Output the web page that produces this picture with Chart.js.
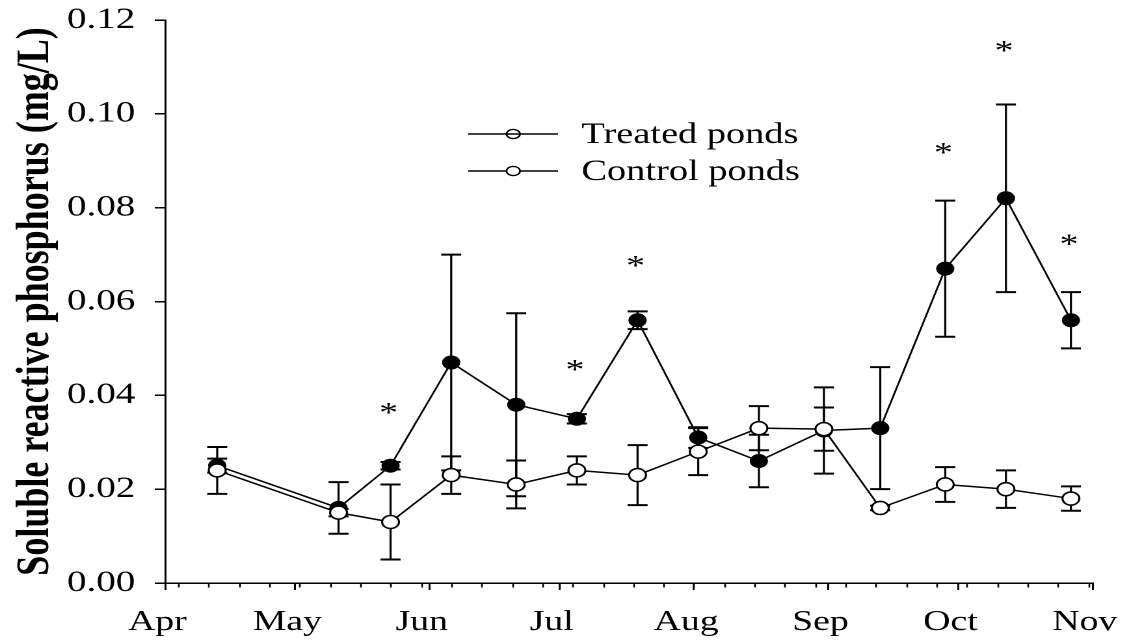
<!DOCTYPE html>
<html>
<head>
<meta charset="utf-8">
<title>Soluble reactive phosphorus</title>
<script src="https://cdn.jsdelivr.net/npm/chart.js@4.4.1/dist/chart.umd.min.js"></script>
<style>
  html, body { margin: 0; padding: 0; background: #fff; overflow: hidden; }
  /* The figure is laid out narrower and stretched sideways, as in the published plot */
  #wrap { width: 868px; height: 642px; transform: scaleX(1.3007); transform-origin: 0 0; }
</style>
</head>
<body>
<div id="wrap"><canvas id="chart"></canvas></div>
<script>
// Month boundaries on the x axis, in days counted from 1 April
const monthLabels = ['Apr', 'May', 'Jun', 'Jul', 'Aug', 'Sep', 'Oct', 'Nov'];
const monthStartDays = [0, 30, 61, 91, 122, 153, 183, 214];
const yTickValues = [0, 0.02, 0.04, 0.06, 0.08, 0.10, 0.12];

// Sampling dates (days from 1 April)
const sampleDays = [12, 40, 52, 66, 81, 95, 109, 123, 137, 152, 165, 180, 194, 209];

// Mean SRP (mg/L) and standard error for each pond group
const treatedMean = [0.025, 0.016, 0.025, 0.047, 0.038, 0.035, 0.056, 0.031, 0.026, 0.0325, 0.033, 0.067, 0.082, 0.056];
const treatedSE   = [0.0015, 0.0055, 0.0008, 0.023, 0.0195, 0.001, 0.0019, 0.0022, 0.0056, 0.0092, 0.013, 0.0145, 0.020, 0.006];
const controlMean = [0.024, 0.015, 0.013, 0.023, 0.021, 0.024, 0.023, 0.028, 0.033, 0.0328, 0.016, 0.021, 0.020, 0.018];
const controlSE   = [0.005, 0.0008, 0.008, 0.004, 0.0051, 0.003, 0.0064, 0.005, 0.0047, 0.0046, 0.0005, 0.0037, 0.004, 0.0026];

// Significant differences: sample index and height of the asterisk (mg/L)
const sigIndex = [2, 5, 6, 11, 12, 13];
const sigLevel = [0.0372, 0.0464, 0.0685, 0.0926, 0.1143, 0.0731];

const seriesNames = ['Treated ponds', 'Control ponds'];

const SERIF = "'Liberation Serif', 'Times New Roman', serif";

function toPoints(means) {
  return sampleDays.map((d, i) => ({ x: d, y: means[i] }));
}

// Weekly minor ticks (every 7 days from 4 April)
const weekTickDays = [];
for (let d = 3; d <= 214; d += 7) weekTickDays.push(d);

const errorBars = {
  id: 'errorBars',
  beforeDatasetsDraw(chart) {
    const { ctx, scales: { x, y } } = chart;
    const half = 7.7;
    ctx.save();
    ctx.strokeStyle = '#000';
    [[treatedMean, treatedSE], [controlMean, controlSE]].forEach(([m, se]) => {
      m.forEach((v, i) => {
        const px = x.getPixelForValue(sampleDays[i]);
        const top = y.getPixelForValue(v + se[i]);
        const bot = y.getPixelForValue(v - se[i]);
        ctx.lineWidth = 1.6;
        ctx.beginPath(); ctx.moveTo(px, top); ctx.lineTo(px, bot); ctx.stroke();
        ctx.lineWidth = 2;
        ctx.beginPath();
        ctx.moveTo(px - half, top); ctx.lineTo(px + half, top);
        ctx.moveTo(px - half, bot); ctx.lineTo(px + half, bot);
        ctx.stroke();
      });
    });
    ctx.restore();
  }
};

const decorations = {
  id: 'decorations',
  afterDraw(chart) {
    const { ctx, scales: { x, y } } = chart;
    ctx.save();
    // weekly minor ticks under the x axis
    ctx.strokeStyle = '#000';
    ctx.lineWidth = 1.3;
    const base = y.getPixelForValue(0);
    weekTickDays.forEach(d => {
      const px = Math.round(x.getPixelForValue(d)) + 0.5;
      ctx.beginPath(); ctx.moveTo(px, base); ctx.lineTo(px, base + 4.5); ctx.stroke();
    });

    // significance asterisks
    ctx.fillStyle = '#000';
    ctx.font = '29px ' + SERIF;
    ctx.textAlign = 'center';
    ctx.textBaseline = 'alphabetic';
    const m = ctx.measureText('*');
    const shift = (m.actualBoundingBoxAscent - m.actualBoundingBoxDescent) / 2;
    sigIndex.forEach((idx, k) => {
      const px = x.getPixelForValue(sampleDays[idx]) - 1.5;
      const py = y.getPixelForValue(sigLevel[k]);
      ctx.fillText('*', px, py + shift);
    });

    // legend
    const rows = [134, 171];
    ctx.font = '29.5px ' + SERIF;
    ctx.textAlign = 'left';
    ctx.textBaseline = 'middle';
    rows.forEach((ly, k) => {
      ctx.lineWidth = 1.5;
      ctx.beginPath(); ctx.moveTo(360, ly); ctx.lineTo(429, ly); ctx.stroke();
      ctx.beginPath();
      ctx.ellipse(394.6, ly, 5.2, 4.6, 0, 0, Math.PI * 2);
      if (k === 1) { ctx.fillStyle = '#fff'; ctx.fill(); }
      ctx.lineWidth = 1.4;
      ctx.stroke();
      ctx.fillStyle = '#000';
      ctx.fillText(seriesNames[k], 447, ly + 1);
    });
    ctx.restore();
  }
};

new Chart(document.getElementById('chart'), {
  type: 'line',
  data: {
    datasets: [
      {
        label: seriesNames[0],
        data: toPoints(treatedMean),
        borderColor: '#000',
        borderWidth: 1.5,
        backgroundColor: '#000',
        pointBackgroundColor: '#000',
        pointBorderColor: '#000',
        pointBorderWidth: 1,
        pointRadius: 6.5,
        tension: 0,
        order: 2
      },
      {
        label: seriesNames[1],
        data: toPoints(controlMean),
        borderColor: '#000',
        borderWidth: 1.5,
        backgroundColor: '#fff',
        pointBackgroundColor: '#fff',
        pointBorderColor: '#000',
        pointBorderWidth: 1.6,
        pointRadius: 6.5,
        tension: 0,
        order: 1
      }
    ]
  },
  options: {
    responsive: true,
    maintainAspectRatio: false,
    devicePixelRatio: 2,
    animation: false,
    events: [],
    layout: { padding: { left: 6, top: 20, right: 28, bottom: 0 } },
    plugins: { legend: { display: false }, tooltip: { enabled: false } },
    scales: {
      x: {
        type: 'linear',
        min: 0,
        max: 214,
        afterBuildTicks(scale) { scale.ticks = monthStartDays.map(v => ({ value: v })); },
        afterFit(scale) {
          scale.height = 59;
          scale.paddingLeft = 0;
          scale.paddingRight = 0;
        },
        ticks: {
          color: '#000',
          font: { family: SERIF, size: 29 },
          padding: 15,
          labelOffset: -6,
          maxRotation: 0,
          autoSkip: false,
          callback(value) {
            const i = monthStartDays.indexOf(value);
            return i >= 0 ? monthLabels[i] : '';
          }
        },
        grid: { display: true, drawOnChartArea: false, drawTicks: true, tickLength: 7, color: '#000', lineWidth: 1.5 },
        border: { display: true, color: '#000', width: 1.5 }
      },
      y: {
        min: 0,
        max: 0.12,
        afterBuildTicks(scale) { scale.ticks = yTickValues.map(v => ({ value: v })); },
        afterFit(scale) {
          scale.width = 121;
          scale.paddingTop = 0;
          scale.paddingBottom = 0;
        },
        ticks: {
          color: '#000',
          font: { family: SERIF, size: 30 },
          padding: 15,
          callback(value) { return value.toFixed(2); }
        },
        title: {
          display: true,
          text: 'Soluble reactive phosphorus (mg/L)',
          color: '#000',
          font: { family: SERIF, size: 36, weight: 'bold' },
          padding: 0
        },
        grid: { display: true, drawOnChartArea: false, drawTicks: true, tickLength: 8, color: '#000', lineWidth: 1.5 },
        border: { display: true, color: '#000', width: 1.5 }
      }
    }
  },
  plugins: [errorBars, decorations]
});
</script>
</body>
</html>
